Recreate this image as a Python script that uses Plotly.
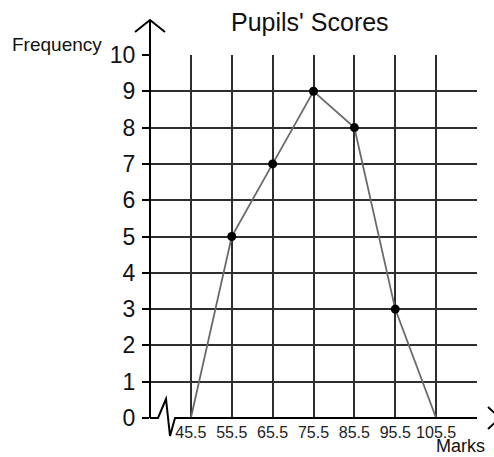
import plotly.graph_objects as go

# Frequency polygon of pupils' marks (class midpoints on x)
marks = [45.5, 55.5, 65.5, 75.5, 85.5, 95.5, 105.5]
frequency = [0, 5, 7, 9, 8, 3, 0]
x_ticks = [45.5, 55.5, 65.5, 75.5, 85.5, 95.5, 105.5, 115.5]
x_tick_text = ["45.5", "55.5", "65.5", "75.5", "85.5", "95.5", "105.5", ""]
y_ticks = list(range(0, 11))

FONT = "Liberation Sans, Arial, sans-serif"

W, H = 494, 457
L, R, T, B = 150, 17, 55, 39
pw, ph = W - L - R, H - T - B


def px(x):
    return (x - L) / pw


def py(y):
    return (H - B - y) / ph


fig = go.Figure()
fig.add_trace(go.Scatter(
    x=marks, y=frequency, mode="lines",
    line=dict(color="#6a6a6a", width=1.8),
    hoverinfo="skip", showlegend=False,
))
inner = [(m, f) for m, f in zip(marks, frequency) if f > 0]
fig.add_trace(go.Scatter(
    x=[m for m, _ in inner], y=[f for _, f in inner], mode="markers",
    marker=dict(color="black", size=9),
    showlegend=False,
))

axis_common = dict(
    showgrid=True, gridcolor="#2e2e2e", gridwidth=1.5,
    zeroline=False, showline=False,
)

fig.update_xaxes(
    range=[35.5, 115.5], tickvals=x_ticks, ticktext=x_tick_text,
    ticks="", ticklabelstandoff=3,
    tickfont=dict(family=FONT, size=16, color="#222"),
    **axis_common,
)
fig.update_yaxes(
    range=[0, 10], tickvals=y_ticks,
    ticks="outside", ticklen=7, tickwidth=1.5, tickcolor="black",
    ticklabelstandoff=2,
    tickfont=dict(family=FONT, size=23, color="#111"),
    **axis_common,
)

line_style = dict(color="black", width=2)
shapes = [
    # vertical axis with arrowhead
    dict(type="path", xref="paper", yref="paper",
         path=f"M {px(150)},{py(418)} L {px(150)},{py(20)}",
         line=line_style),
    dict(type="path", xref="paper", yref="paper",
         path=f"M {px(135)},{py(32)} L {px(150)},{py(20)} L {px(165)},{py(32)}",
         line=line_style),
    # horizontal axis with a break near the origin
    dict(type="path", xref="paper", yref="paper",
         path=(f"M {px(150)},{py(418)} L {px(158)},{py(418)} "
               f"L {px(166)},{py(399)} L {px(170)},{py(436)} "
               f"L {px(175)},{py(418)} L {px(477)},{py(418)}"),
         line=line_style),
    # arrowhead of the horizontal axis
    dict(type="path", xref="paper", yref="paper",
         path=f"M {px(488)},{py(407)} L {px(500)},{py(418)} L {px(488)},{py(429)}",
         line=line_style),
]

annotations = [
    dict(text="Pupils' Scores", xref="paper", yref="paper",
         x=px(310), y=py(22), showarrow=False, xanchor="center", yanchor="middle",
         font=dict(family=FONT, size=25, color="#111")),
    dict(text="Frequency", xref="paper", yref="paper",
         x=px(57), y=py(44), showarrow=False, xanchor="center", yanchor="middle",
         font=dict(family=FONT, size=19, color="#111")),
    dict(text="Marks", xref="paper", yref="paper",
         x=px(460), y=py(446), showarrow=False, xanchor="center", yanchor="middle",
         font=dict(family=FONT, size=18, color="#111")),
]

fig.update_layout(
    width=W, height=H,
    margin=dict(l=L, r=R, t=T, b=B, pad=0),
    paper_bgcolor="white", plot_bgcolor="white",
    shapes=shapes, annotations=annotations,
)

fig.write_html("out.html")
